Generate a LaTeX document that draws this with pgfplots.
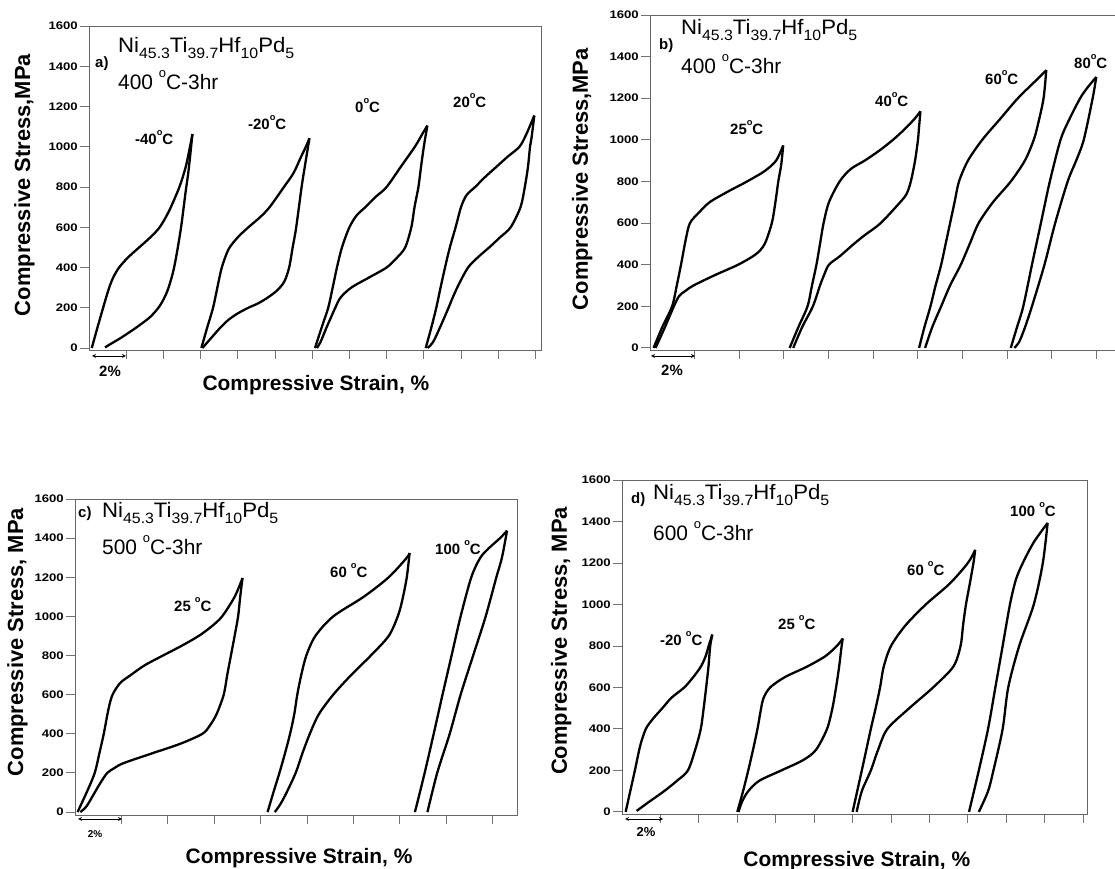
\documentclass[border=0pt]{standalone}
\usepackage{fontspec}
\setmainfont{Liberation Sans}
\usepackage{graphicx}
\usepackage{pgfplots}
\pgfplotsset{compat=1.18}
\newcommand\sub[1]{\raisebox{-6bp}{\fontsize{15}{15}\selectfont #1}}
\newcommand\dg{\raisebox{0.62em}{\fontsize{0.62em}{0.62em}\selectfont o}}
\newcommand\alloy{\scalebox{1.06}[1]{Ni\sub{45.3}Ti\sub{39.7}Hf\sub{10}Pd\sub{5}}}
\pgfplotsset{
  panel/.style={
    scale only axis, anchor=south west, xmin=0, ymin=-10, ymax=1600,
    ytick={0,200,...,1600}, xticklabels={},
    tick align=outside, tick pos=left, major tick length=9bp,
    axis line style={draw=black!60, line width=0.9bp},
    every tick/.style={draw=black!55, line width=0.9bp},
    /pgf/number format/assume math mode=true,
    /pgf/number format/1000 sep={},
    yticklabel style={font=\bfseries\fontsize{11}{12}\selectfont, inner sep=2bp},
    yticklabel={\scalebox{1.2}[1]{\pgfmathprintnumber{\tick}}},
    xlabel style={font=\bfseries\fontsize{21}{24}\selectfont, anchor=base, inner sep=0pt},
    ylabel style={font=\bfseries\fontsize{22}{24}\selectfont, anchor=base, inner sep=0pt},
  },
  crv/.style={black, line width=2.3bp, smooth, tension=0.5, mark=none},
}
\tikzset{
  tl/.style={inner sep=0pt, anchor=base west, font=\fontsize{21}{24}\selectfont},
  tp/.style={inner sep=0pt, anchor=base west, font=\bfseries\fontsize{15}{18}\selectfont},
  pl/.style={inner sep=0pt, anchor=base west, font=\bfseries\fontsize{15}{18}\selectfont},
  pc/.style={inner sep=0pt, anchor=base, font=\bfseries\fontsize{15}{16}\selectfont},
  sb/.style={<->, >=stealth, line width=0.8bp, black},
}
\begin{document}
\begin{tikzpicture}
% ---------------- panel a
\begin{axis}[panel, at={(89bp,519bp)}, width=452bp, height=324bp, xmax=24.3, xtick={2,4,...,24},
  xlabel={Compressive Strain, \%}, xlabel style={at={(axis description cs:0.502,-0.1235)}},
  ylabel={Compressive Stress,MPa}, ylabel style={at={(axis description cs:-0.1305,0.509)}}]
\addplot[crv] coordinates {(0.15,0) (0.45,100) (0.76,200) (1.05,290) (1.3,350) (1.62,400) (2.1,450) (2.7,500) (3.3,550) (3.8,600) (4.3,680) (4.86,800) (5.2,900) (5.43,1000) (5.56,1063)};
\addplot[crv] coordinates {(5.56,1063) (5.35,880) (5.2,780) (4.95,600) (4.7,460) (4.5,370) (4.2,280) (3.81,210) (3.3,155) (2.67,110) (2.2,80) (1.71,50) (1.2,22) (0.86,3)};
\addplot[crv] coordinates {(6.04,0) (6.35,100) (6.67,200) (6.9,300) (7.14,400) (7.5,490) (8.0,550) (8.57,600) (9.2,650) (9.71,700) (10.48,800) (11.0,870) (11.4,950) (11.66,1000) (11.85,1042)};
\addplot[crv] coordinates {(11.85,1042) (11.6,900) (11.43,800) (11.14,600) (10.95,500) (10.76,400) (10.5,330) (10.1,285) (9.6,250) (9.1,222) (8.57,200) (8.0,172) (7.5,140) (7.05,100) (6.57,50) (6.1,0)};
\addplot[crv] coordinates {(12.15,0) (12.5,100) (12.86,200) (13.1,300) (13.33,400) (13.6,500) (14.0,600) (14.4,660) (14.86,700) (15.4,750) (16.0,800) (16.76,900) (17.52,1000) (17.9,1060) (18.19,1105)};
\addplot[crv] coordinates {(18.19,1105) (18.0,1000) (17.85,900) (17.71,800) (17.5,700) (17.33,600) (17.0,500) (16.57,450) (16.0,400) (15.05,350) (14.1,300) (13.52,250) (13.24,200) (13.0,150) (12.76,100) (12.45,30) (12.25,0)};
\addplot[crv] coordinates {(18.10,0) (18.4,100) (18.67,200) (18.9,300) (19.14,400) (19.4,500) (19.71,600) (20.0,700) (20.3,760) (20.76,800) (21.3,850) (21.9,900) (22.5,950) (23.14,1000) (23.5,1060) (23.94,1155)};
\addplot[crv] coordinates {(23.94,1155) (23.8,1050) (23.71,1000) (23.6,900) (23.43,800) (23.2,700) (22.67,600) (22.1,550) (21.52,500) (20.9,450) (20.38,400) (19.9,320) (19.55,250) (19.33,200) (18.86,100) (18.5,30) (18.2,0)};
\end{axis}
% ---------------- panel b
\begin{axis}[panel, at={(650bp,519bp)}, width=473bp, height=335bp, xmax=21.2, xtick={2,4,...,20},
  ylabel={Compressive Stress,MPa}, ylabel style={at={(axis description cs:-0.1311,0.510)}}]
\addplot[crv] coordinates {(0.16,0) (0.55,100) (0.99,200) (1.2,300) (1.39,400) (1.6,520) (1.79,600) (2.19,650) (2.67,700) (3.47,750) (4.35,800) (5.14,850) (5.65,900) (5.97,973)};
\addplot[crv] coordinates {(5.97,973) (5.88,880) (5.75,800) (5.62,700) (5.46,600) (5.14,500) (4.74,450) (3.95,400) (2.91,350) (1.95,300) (1.6,275) (1.31,250) (1.07,200) (0.67,100) (0.25,0)};
\addplot[crv] coordinates {(6.26,0) (6.65,100) (7.06,200) (7.26,300) (7.46,400) (7.62,500) (7.78,600) (8.02,700) (8.5,800) (9.0,860) (9.62,900) (10.3,950) (10.89,1000) (11.4,1050) (11.85,1100) (12.12,1137)};
\addplot[crv] coordinates {(12.12,1137) (12.05,1050) (12.01,1000) (11.88,900) (11.69,800) (11.5,740) (11.21,700) (10.34,600) (9.6,540) (9.14,500) (8.5,440) (8.02,400) (7.8,350) (7.62,300) (7.30,200) (6.82,100) (6.42,0)};
\addplot[crv] coordinates {(12.06,0) (12.3,100) (12.57,200) (12.8,300) (13.05,400) (13.25,500) (13.45,600) (13.65,700) (13.85,800) (14.25,900) (14.89,1000) (15.69,1100) (16.49,1200) (17.44,1300) (17.76,1335)};
\addplot[crv] coordinates {(17.76,1335) (17.64,1200) (17.4,1080) (17.2,1000) (16.8,900) (16.17,800) (15.37,700) (14.73,600) (14.33,500) (13.93,400) (13.45,300) (13.05,200) (12.65,100) (12.33,0)};
\addplot[crv] coordinates {(16.17,0) (16.45,100) (16.73,200) (17.12,400) (17.52,600) (17.92,800) (18.4,1000) (18.8,1100) (19.28,1200) (19.6,1250) (20.0,1302)};
\addplot[crv] coordinates {(20.0,1302) (19.84,1200) (19.44,1000) (19.1,900) (18.72,800) (18.16,600) (17.68,400) (17.12,200) (16.81,100) (16.55,30) (16.33,0)};
\end{axis}
% ---------------- panel c
\begin{axis}[panel, at={(75bp,54bp)}, width=442bp, height=316bp, ymin=-15, xmax=19.05, xtick={2,4,...,18},
  xlabel={Compressive Strain, \%}, xlabel style={at={(axis description cs:0.507,-0.152)}},
  ylabel={Compressive Stress, MPa}, ylabel style={at={(axis description cs:-0.1176,0.547)}}]
\addplot[crv] coordinates {(0.11,0) (0.5,100) (0.85,200) (1.05,300) (1.24,400) (1.45,530) (1.62,600) (1.95,660) (2.4,700) (3.0,750) (3.79,800) (4.6,850) (5.33,900) (5.9,950) (6.34,1000) (6.88,1100) (7.22,1196)};
\addplot[crv] coordinates {(7.22,1196) (7.12,1100) (7.03,1000) (6.88,900) (6.72,800) (6.56,700) (6.41,600) (6.1,500) (5.8,440) (5.49,400) (4.56,350) (3.32,300) (2.09,250) (1.7,225) (1.39,200) (1.1,150) (0.85,100) (0.5,30) (0.23,0)};
\addplot[crv] coordinates {(8.30,0) (8.55,100) (8.81,200) (9.05,300) (9.27,400) (9.45,500) (9.58,600) (9.75,700) (9.97,800) (10.36,900) (11.13,1000) (12.44,1100) (13.52,1200) (14.3,1300) (14.42,1324)};
\addplot[crv] coordinates {(14.42,1324) (14.3,1200) (14.1,1080) (13.91,1000) (13.52,900) (12.75,800) (11.9,700) (11.13,600) (10.51,500) (10.12,400) (9.8,300) (9.51,200) (9.12,100) (8.85,40) (8.61,0)};
\addplot[crv] coordinates {(14.65,0) (15.07,200) (15.46,400) (15.84,600) (16.23,800) (16.62,1000) (17.08,1200) (17.47,1300) (17.85,1350) (18.32,1400) (18.62,1438)};
\addplot[crv] coordinates {(18.62,1438) (18.4,1300) (18.16,1200) (17.7,1000) (17.16,800) (16.62,600) (16.15,400) (15.61,200) (15.19,0)};
\end{axis}
% ---------------- panel d
\begin{axis}[panel, at={(622bp,55bp)}, width=465bp, height=334bp, xmax=24.2, xtick={2,4,...,24},
  xlabel={Compressive Strain, \%}, xlabel style={at={(axis description cs:0.505,-0.1557)}},
  ylabel={Compressive Stress, MPa}, ylabel style={at={(axis description cs:-0.1183,0.518)}}]
\addplot[crv] coordinates {(0.19,0) (0.43,100) (0.67,200) (0.95,320) (1.24,400) (1.62,450) (2.1,500) (2.57,550) (3.24,600) (3.71,650) (4.1,700) (4.35,750) (4.51,800) (4.70,855)};
\addplot[crv] coordinates {(4.70,855) (4.59,800) (4.5,700) (4.38,600) (4.25,500) (4.10,400) (3.81,300) (3.43,200) (2.86,150) (2.19,100) (1.43,50) (0.76,5)};
\addplot[crv] coordinates {(6.0,0) (6.3,100) (6.57,200) (6.82,300) (7.05,400) (7.24,500) (7.37,550) (7.71,600) (8.48,650) (9.62,700) (10.57,750) (11.18,800) (11.49,836)};
\addplot[crv] coordinates {(11.49,836) (11.43,800) (11.3,700) (11.14,600) (10.95,500) (10.67,400) (10.1,300) (9.43,250) (8.29,200) (7.14,150) (6.57,100) (6.25,50) (6.06,0)};
\addplot[crv] coordinates {(12.0,0) (12.48,200) (12.95,400) (13.2,500) (13.43,600) (13.62,700) (14.0,800) (14.76,900) (15.81,1000) (17.05,1100) (18.0,1200) (18.38,1263)};
\addplot[crv] coordinates {(18.38,1263) (18.29,1200) (18.1,1100) (17.9,1000) (17.75,900) (17.62,800) (17.24,700) (16.19,600) (14.95,500) (13.81,400) (13.33,300) (12.95,200) (12.48,100) (12.21,0)};
\addplot[crv] coordinates {(18.06,0) (18.57,200) (19.05,400) (19.43,600) (19.81,800) (20.19,1000) (20.5,1120) (20.86,1200) (21.43,1300) (22.15,1393)};
\addplot[crv] coordinates {(22.15,1393) (21.9,1200) (21.43,1000) (20.67,800) (20.1,600) (19.81,400) (19.33,200) (19.05,100) (18.57,0)};
\end{axis}
% ---------------- annotations panel a
\node[pl] at (95bp,801bp) {a)};
\node[tl] at (118bp,816bp) {\alloy};
\node[tl] at (118bp,779bp) {400 \dg C-3hr};
\node[tp] at (135bp,724bp) {-40\dg C};
\node[tp] at (248bp,739bp) {-20\dg C};
\node[tp] at (355bp,756bp) {0\dg C};
\node[tp] at (453bp,761bp) {20\dg C};
\draw[sb] (92bp,513bp) -- (126bp,513bp);
\node[pc] at (110bp,492bp) {2\%};
% panel b
\node[pl] at (659bp,819bp) {b)};
\node[tl] at (681bp,834bp) {\alloy};
\node[tl] at (681bp,795bp) {400 \dg C-3hr};
\node[tp] at (730bp,734bp) {25\dg C};
\node[tp] at (875bp,762bp) {40\dg C};
\node[tp] at (985bp,784bp) {60\dg C};
\node[tp] at (1074bp,800bp) {80\dg C};
\draw[sb] (651bp,513bp) -- (695bp,513bp);
\node[pc] at (672bp,493bp) {2\%};
% panel c
\node[pl] at (78bp,351bp) {c)};
\node[tl] at (102bp,351bp) {\alloy};
\node[tl] at (102bp,314bp) {500 \dg C-3hr};
\node[tp] at (174bp,257bp) {25 \dg C};
\node[tp] at (330bp,291bp) {60 \dg C};
\node[tp] at (435bp,314bp) {100 \dg C};
\draw[sb] (78bp,50bp) -- (122bp,50bp);
\node[pc, font=\bfseries\fontsize{10}{11}\selectfont] at (95bp,32bp) {2\%};
% panel d
\node[pl] at (631bp,365bp) {d)};
\node[tl] at (653bp,369bp) {\alloy};
\node[tl] at (653bp,328bp) {600 \dg C-3hr};
\node[tp] at (660bp,223bp) {-20 \dg C};
\node[tp] at (778bp,239bp) {25 \dg C};
\node[tp] at (907bp,293bp) {60 \dg C};
\node[tp] at (1010bp,352bp) {100 \dg C};
\draw[sb] (625bp,50bp) -- (663bp,50bp);
\node[pc, font=\bfseries\fontsize{13}{14}\selectfont] at (646bp,33bp) {2\%};
\pgfresetboundingbox
\path[use as bounding box] (0,0) rectangle (1115bp,869bp);
\end{tikzpicture}
\end{document}
